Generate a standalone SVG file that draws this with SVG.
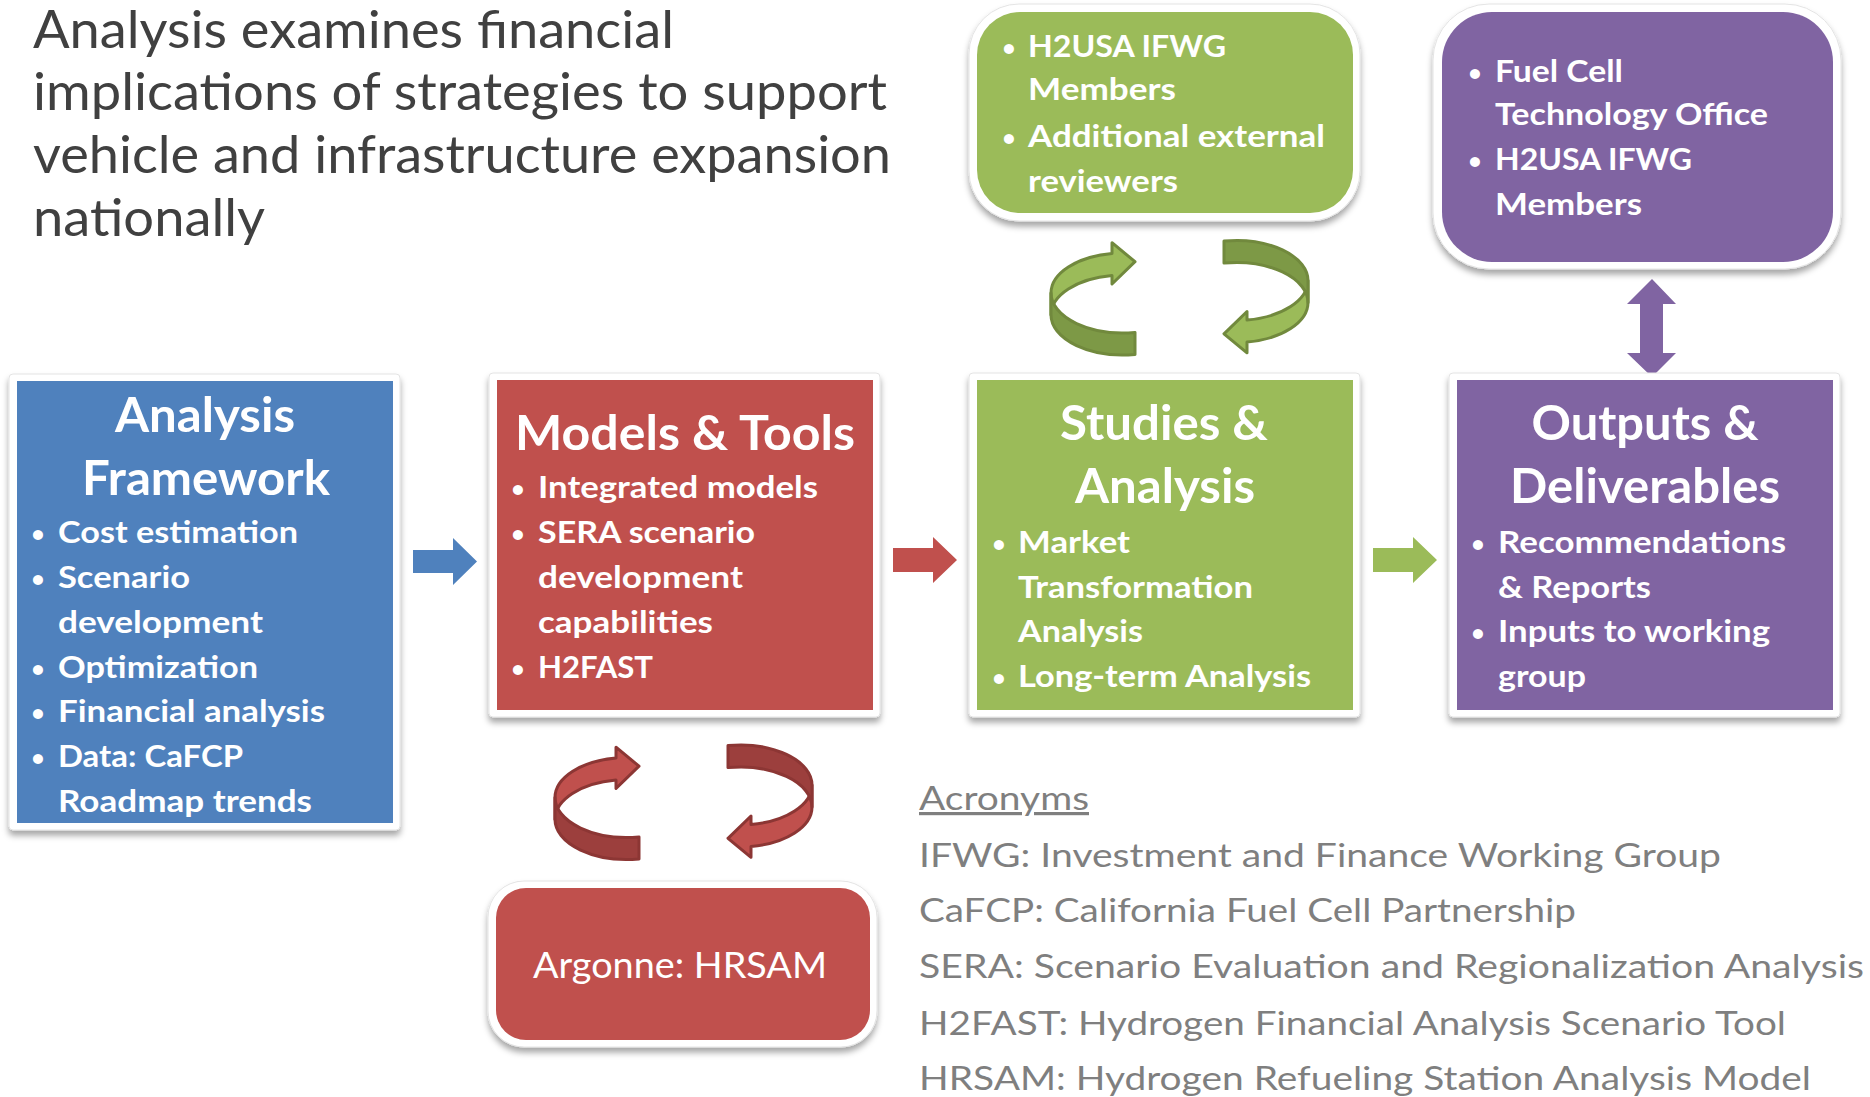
<svg xmlns="http://www.w3.org/2000/svg" xmlns:xlink="http://www.w3.org/1999/xlink" width="1870" height="1097" viewBox="0 0 1870 1097">
  <style>
    .frame { fill: #ffffff; stroke: #e4e4e4; stroke-width: 1; filter: url(#shadow); }
    .blue { fill: #4f81bd; }
    .red { fill: #c0504d; }
    .green { fill: #9bbb59; }
    .purple { fill: #8064a2; }
    .head { font-family: Lato, "Open Sans", "Liberation Sans", sans-serif; font-weight: 700; font-size: 48px; fill: #ffffff; text-anchor: middle; }
    .item { font-family: Lato, "Open Sans", "Liberation Sans", sans-serif; font-weight: 700; font-size: 29.5px; fill: #ffffff; }
    .dot { font-family: Lato, "Open Sans", "Liberation Sans", sans-serif; font-weight: 700; font-size: 23px; fill: #ffffff; text-anchor: middle; }
    .lead { font-family: Lato, "Open Sans", "Liberation Sans", sans-serif; font-size: 52px; fill: #404040; }
    .acr { font-family: Lato, "Open Sans", "Liberation Sans", sans-serif; font-size: 32px; fill: #7f7f7f; }
    .plain { font-family: Lato, "Open Sans", "Liberation Sans", sans-serif; font-size: 37px; fill: #ffffff; text-anchor: middle; }
    .g-light { fill: #9bbb59; stroke: #71893d; stroke-width: 3; stroke-linejoin: round; }
    .g-dark { fill: #7d9946; stroke: #71893d; stroke-width: 3; stroke-linejoin: round; }
    .r-light { fill: #c0504d; stroke: #8c3634; stroke-width: 3; stroke-linejoin: round; }
    .r-dark { fill: #9c3f3d; stroke: #8c3634; stroke-width: 3; stroke-linejoin: round; }
  </style>
  <defs>
    <filter id="shadow" x="-10%" y="-10%" width="120%" height="125%">
      <feDropShadow dx="0" dy="5" stdDeviation="3" flood-color="#000000" flood-opacity="0.35"/>
    </filter>
    <!-- ribbon-style circular arrow: back (inner) face with arrowhead, front (outer) face with flat end -->
    <path id="cyc-back" d="M1112,253.5 L1112,242.7 L1135,261.7 L1112,284 L1112,275.5 A72,40 0 0 0 1051,315 L1051,293 A72,40 0 0 1 1112,253.5 Z"/>
    <path id="cyc-front" d="M1051,293 A72,40 0 0 0 1135,332.4 L1135,354.4 A72,40 0 0 1 1051,315 Z"/>
  </defs>

  <rect width="1870" height="1097" fill="#ffffff"/>

  <!-- heading -->
  <g id="heading">
    <text class="lead" x="33" y="48" textLength="641" lengthAdjust="spacingAndGlyphs">Analysis examines financial</text>
    <text class="lead" x="33" y="110" textLength="854" lengthAdjust="spacingAndGlyphs">implications of strategies to support</text>
    <text class="lead" x="33" y="173" textLength="858" lengthAdjust="spacingAndGlyphs">vehicle and infrastructure expansion</text>
    <text class="lead" x="33" y="236" textLength="232" lengthAdjust="spacingAndGlyphs">nationally</text>
  </g>

  <!-- connectors -->
  <g id="connectors">
    <polygon class="blue" points="413,550 453,550 453,538 477,561.5 453,585 453,573 413,573"/>
    <polygon class="red" points="893,548 933,548 933,537 957,560 933,583 933,572 893,572"/>
    <polygon class="green" points="1373,548 1413,548 1413,537 1437,560 1413,583 1413,572 1373,572"/>
    <polygon class="purple" points="1652,279 1676,304 1663,304 1663,353 1676,353 1652,377 1627,353 1640,353 1640,304 1627,304"/>

    <g id="cycle-review">
      <use xlink:href="#cyc-back" class="g-light"/>
      <use xlink:href="#cyc-front" class="g-dark"/>
      <g transform="matrix(-1 0 0 -1 2359 595.5)">
        <use xlink:href="#cyc-back" class="g-light"/>
        <use xlink:href="#cyc-front" class="g-dark"/>
      </g>
    </g>
    <g id="cycle-models" transform="translate(-496 504.5)">
      <use xlink:href="#cyc-back" class="r-light"/>
      <use xlink:href="#cyc-front" class="r-dark"/>
      <g transform="matrix(-1 0 0 -1 2359 595.5)">
        <use xlink:href="#cyc-back" class="r-light"/>
        <use xlink:href="#cyc-front" class="r-dark"/>
      </g>
    </g>
  </g>

  <!-- nodes -->
  <g id="analysis-framework">
    <rect class="frame" x="9" y="374" width="391" height="456" rx="4"/>
    <rect class="blue" x="17" y="381" width="376" height="442"/>
    <text class="head" x="205" y="432" textLength="180" lengthAdjust="spacingAndGlyphs">Analysis</text>
    <text class="head" x="206" y="495" textLength="248" lengthAdjust="spacingAndGlyphs">Framework</text>
    <text class="dot" x="38" y="542">•</text>
    <text class="item" x="58" y="543" textLength="240" lengthAdjust="spacingAndGlyphs">Cost estimation</text>
    <text class="dot" x="38" y="587">•</text>
    <text class="item" x="58" y="588" textLength="132" lengthAdjust="spacingAndGlyphs">Scenario</text>
    <text class="item" x="58" y="633" textLength="205" lengthAdjust="spacingAndGlyphs">development</text>
    <text class="dot" x="38" y="677">•</text>
    <text class="item" x="58" y="678" textLength="200" lengthAdjust="spacingAndGlyphs">Optimization</text>
    <text class="dot" x="38" y="721">•</text>
    <text class="item" x="58" y="722" textLength="267" lengthAdjust="spacingAndGlyphs">Financial analysis</text>
    <text class="dot" x="38" y="766">•</text>
    <text class="item" x="58" y="767" textLength="185" lengthAdjust="spacingAndGlyphs">Data: CaFCP</text>
    <text class="item" x="58" y="812" textLength="254" lengthAdjust="spacingAndGlyphs">Roadmap trends</text>
  </g>

  <g id="models-tools">
    <rect class="frame" x="489" y="373" width="391" height="344" rx="4"/>
    <rect class="red" x="497" y="380" width="376" height="330"/>
    <text class="head" x="685" y="450" textLength="340" lengthAdjust="spacingAndGlyphs">Models &amp; Tools</text>
    <text class="dot" x="518" y="497">•</text>
    <text class="item" x="538" y="498" textLength="280" lengthAdjust="spacingAndGlyphs">Integrated models</text>
    <text class="dot" x="518" y="542">•</text>
    <text class="item" x="538" y="543" textLength="217" lengthAdjust="spacingAndGlyphs">SERA scenario</text>
    <text class="item" x="538" y="588" textLength="205" lengthAdjust="spacingAndGlyphs">development</text>
    <text class="item" x="538" y="633" textLength="175" lengthAdjust="spacingAndGlyphs">capabilities</text>
    <text class="dot" x="518" y="677">•</text>
    <text class="item" x="538" y="678" textLength="115" lengthAdjust="spacingAndGlyphs">H2FAST</text>
  </g>

  <g id="studies-analysis">
    <rect class="frame" x="969" y="373" width="391" height="344" rx="4"/>
    <rect class="green" x="977" y="380" width="376" height="330"/>
    <text class="head" x="1164" y="440" textLength="208" lengthAdjust="spacingAndGlyphs">Studies &amp;</text>
    <text class="head" x="1165" y="503" textLength="180" lengthAdjust="spacingAndGlyphs">Analysis</text>
    <text class="dot" x="999" y="552">•</text>
    <text class="item" x="1018" y="553" textLength="112" lengthAdjust="spacingAndGlyphs">Market</text>
    <text class="item" x="1018" y="597.5" textLength="235" lengthAdjust="spacingAndGlyphs">Transformation</text>
    <text class="item" x="1018" y="642" textLength="125" lengthAdjust="spacingAndGlyphs">Analysis</text>
    <text class="dot" x="999" y="685.5">•</text>
    <text class="item" x="1018" y="686.5" textLength="293" lengthAdjust="spacingAndGlyphs">Long-term Analysis</text>
  </g>

  <g id="outputs-deliverables">
    <rect class="frame" x="1449" y="373" width="391" height="344" rx="4"/>
    <rect class="purple" x="1457" y="380" width="376" height="330"/>
    <text class="head" x="1645" y="440" textLength="227" lengthAdjust="spacingAndGlyphs">Outputs &amp;</text>
    <text class="head" x="1645" y="503" textLength="270" lengthAdjust="spacingAndGlyphs">Deliverables</text>
    <text class="dot" x="1478" y="552">•</text>
    <text class="item" x="1498" y="553" textLength="288" lengthAdjust="spacingAndGlyphs">Recommendations</text>
    <text class="item" x="1498" y="597.5" textLength="153" lengthAdjust="spacingAndGlyphs">&amp; Reports</text>
    <text class="dot" x="1478" y="641">•</text>
    <text class="item" x="1498" y="642" textLength="272" lengthAdjust="spacingAndGlyphs">Inputs to working</text>
    <text class="item" x="1498" y="686.5" textLength="88" lengthAdjust="spacingAndGlyphs">group</text>
  </g>

  <g id="reviewers">
    <rect class="frame" x="969" y="4" width="391" height="217" rx="50"/>
    <rect class="green" x="977" y="12" width="376" height="201" rx="43"/>
    <text class="dot" x="1009" y="56">•</text>
    <text class="item" x="1028" y="57" textLength="198" lengthAdjust="spacingAndGlyphs">H2USA IFWG</text>
    <text class="item" x="1028" y="100" textLength="148" lengthAdjust="spacingAndGlyphs">Members</text>
    <text class="dot" x="1009" y="146">•</text>
    <text class="item" x="1028" y="147" textLength="297" lengthAdjust="spacingAndGlyphs">Additional external</text>
    <text class="item" x="1028" y="192" textLength="150" lengthAdjust="spacingAndGlyphs">reviewers</text>
  </g>

  <g id="stakeholders">
    <rect class="frame" x="1433" y="4" width="408" height="265" rx="56"/>
    <rect class="purple" x="1442" y="12" width="391" height="250" rx="50"/>
    <text class="dot" x="1475" y="81">•</text>
    <text class="item" x="1495" y="82" textLength="128" lengthAdjust="spacingAndGlyphs">Fuel Cell</text>
    <text class="item" x="1495" y="125" textLength="273" lengthAdjust="spacingAndGlyphs">Technology Office</text>
    <text class="dot" x="1475" y="169">•</text>
    <text class="item" x="1495" y="170" textLength="197" lengthAdjust="spacingAndGlyphs">H2USA IFWG</text>
    <text class="item" x="1495" y="215" textLength="147" lengthAdjust="spacingAndGlyphs">Members</text>
  </g>

  <g id="argonne-hrsam">
    <rect class="frame" x="488" y="881" width="389" height="166" rx="36"/>
    <rect class="red" x="496" y="888" width="374" height="152" rx="30"/>
    <text class="plain" x="680" y="978" textLength="294" lengthAdjust="spacingAndGlyphs">Argonne: HRSAM</text>
  </g>

  <!-- acronym legend -->
  <g id="acronyms">
    <text class="acr" x="919" y="810" text-decoration="underline" textLength="170" lengthAdjust="spacingAndGlyphs">Acronyms</text>
    <text class="acr" x="919" y="867" textLength="802" lengthAdjust="spacingAndGlyphs">IFWG: Investment and Finance Working Group</text>
    <text class="acr" x="919" y="922" textLength="657" lengthAdjust="spacingAndGlyphs">CaFCP: California Fuel Cell Partnership</text>
    <text class="acr" x="919" y="978" textLength="945" lengthAdjust="spacingAndGlyphs">SERA: Scenario Evaluation and Regionalization Analysis</text>
    <text class="acr" x="919" y="1035" textLength="867" lengthAdjust="spacingAndGlyphs">H2FAST: Hydrogen Financial Analysis Scenario Tool</text>
    <text class="acr" x="919" y="1090" textLength="892" lengthAdjust="spacingAndGlyphs">HRSAM: Hydrogen Refueling Station Analysis Model</text>
  </g>
</svg>
